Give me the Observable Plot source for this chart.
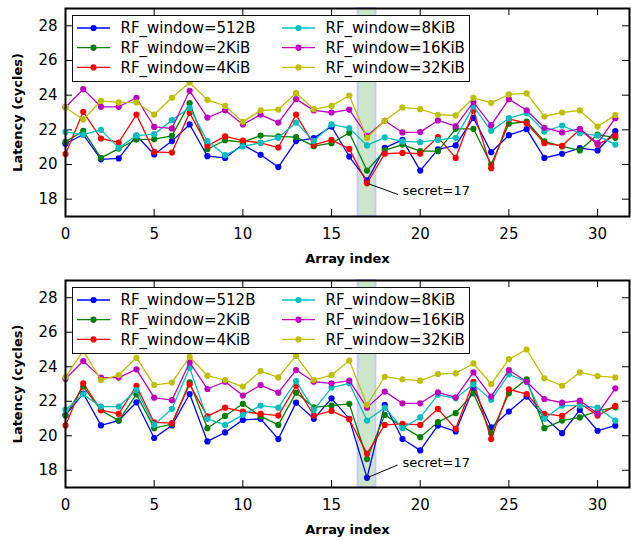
<!DOCTYPE html>
<html>
<head>
<meta charset="utf-8">
<script src="https://cdn.jsdelivr.net/npm/d3@7"></script>
<script src="https://cdn.jsdelivr.net/npm/@observablehq/plot@0.6"></script>
<style>
  body { margin: 0; background: #fff; }
  #chart { width: 631px; }
  #chart svg { display: block; }
</style>
</head>
<body>
<div id="chart"></div>
<script>
// ---------- data ----------
const arrayIndex = [0,1,2,3,4,5,6,7,8,9,10,11,12,13,14,15,16,17,18,19,20,21,22,23,24,25,26,27,28,29,30,31];
const seriesNames = ["RF_window=512B","RF_window=2KiB","RF_window=4KiB","RF_window=8KiB","RF_window=16KiB","RF_window=32KiB"];
const seriesColors = ["#0000ff","#008000","#ff0000","#00bfbf","#bf00bf","#bfbf00"];
const xTicks = [0,5,10,15,20,25,30];
const yTicks = [18,20,22,24,26,28];
const xDomain = [0, 31.8];
const yDomain = [17, 29];
const secretBand = [{x1: 16.5, x2: 17.5}];

// top panel
const top512B = [21.2,21.73,20.3,20.35,21.67,20.58,21.35,22.31,20.48,20.38,21.15,20.56,19.85,21.35,21.52,22.19,20.46,19.08,20.96,21.42,19.65,20.87,21.1,22.69,20.71,21.69,22.04,20.38,20.62,20.94,20.81,21.92];
const top2KiB = [21.3,21.94,20.38,20.92,21.44,21.46,21.65,23.54,20.88,21.4,21.29,21.67,21.62,21.58,21.06,21.23,21.83,19.65,20.81,21.15,20.77,20.77,22.06,22.06,20.0,22.35,22.48,21.33,21.04,20.81,21.73,21.54];
const top4KiB = [20.6,23.04,21.5,21.27,22.88,20.73,20.69,22.98,21.08,21.62,21.38,21.25,20.98,22.88,21.13,21.42,20.9,18.92,20.62,20.67,20.62,21.58,20.38,23.12,19.79,22.63,22.38,21.23,21.08,22.02,21.15,21.67];
const top8KiB = [21.88,21.73,22.0,20.96,21.67,21.75,22.56,23.27,21.35,20.54,21.04,21.25,21.54,22.42,21.35,22.31,22.1,21.1,21.56,21.33,21.29,21.42,21.54,23.35,21.94,22.67,22.96,21.9,22.25,21.81,21.67,21.15];
const top16KiB = [23.29,24.35,23.33,23.33,23.85,22.17,22.08,24.25,22.71,23.13,22.31,22.88,22.42,23.77,23.12,23.0,23.17,21.65,22.52,21.85,21.87,22.54,22.21,23.6,22.27,23.77,23.13,22.12,21.85,22.06,21.23,22.67];
const top32KiB = [23.29,22.6,23.67,23.58,23.58,22.88,23.85,24.73,23.73,23.38,22.46,23.12,23.17,24.12,23.19,23.38,23.98,21.54,22.52,23.29,23.19,22.87,22.83,23.85,23.56,24.04,24.1,22.77,23.0,23.12,22.19,22.85];

// bottom panel
const bot512B = [21.2,22.45,20.6,20.88,21.94,19.87,20.6,22.42,19.67,20.19,20.92,20.98,19.81,21.92,20.98,22.17,20.98,17.56,21.79,19.81,19.15,20.6,20.25,22.75,20.48,21.4,22.27,21.08,20.15,21.5,20.29,20.58];
const bot2KiB = [21.18,22.85,21.48,20.88,22.4,20.44,20.67,23.1,20.44,21.15,21.85,21.12,20.63,22.5,21.65,21.75,21.85,18.65,21.21,20.54,19.92,20.79,21.31,22.46,20.15,22.46,23.27,20.44,20.88,21.06,21.44,21.65];
const bot4KiB = [20.6,23.04,21.48,21.27,22.9,20.77,20.73,22.98,21.12,21.63,21.4,21.27,21.17,22.9,21.17,21.44,20.96,18.96,20.63,20.69,20.63,21.56,20.4,23.13,19.81,22.69,22.42,21.27,21.15,21.88,21.17,21.73];
const bot8KiB = [21.5,22.4,21.69,21.69,22.65,20.63,21.56,23.94,20.98,20.63,21.21,21.75,21.63,23.17,21.5,22.79,23.04,20.88,21.63,20.44,21.06,22.37,22.17,22.98,22.08,23.56,23.13,20.98,21.75,21.75,21.63,20.88];
const bot16KiB = [23.3,24.33,23.37,23.37,23.85,22.21,22.06,24.25,22.71,23.13,22.33,22.94,22.5,23.81,23.13,23.04,23.19,21.63,22.56,21.88,21.88,22.52,22.23,23.67,22.27,23.81,23.13,22.13,21.92,22.04,21.27,22.75];
const bot32KiB = [23.4,24.93,23.23,23.52,24.52,22.94,23.08,24.58,23.48,23.23,22.85,23.75,23.38,24.63,23.23,23.52,24.35,21.79,23.42,23.27,23.19,23.58,23.62,24.19,23.0,24.44,25.0,23.33,22.9,23.67,23.46,23.38];

// annotations: point (x,y), line end (tx,ty), text position (lx,ly)
const topAnnotation = [{x: 17, y: 18.92, tx: 18.75, ty: 18.27, lx: 19.0, ly: 18.47, label: "secret=17"}];
const bottomAnnotation = [{x: 17, y: 17.56, tx: 18.72, ty: 18.3, lx: 19.0, ly: 18.43, label: "secret=17"}];

const xLabel = "Array index";
const yLabel = "Latency (cycles)";

// ---------- drawing ----------
function makePanel(seriesData, annotation, mt, mb) {
  const W = 631, H = 270, ml = 65, mr = 2;
  const pw = W - ml - mr, ph = H - mt - mb;
  const tick = 7;
  const rows = [];
  seriesNames.forEach((name, k) => seriesData[k].forEach((v, i) => rows.push({series: name, x: arrayIndex[i], y: v})));

  const seriesMarks = seriesNames.flatMap((name) => {
    const d = rows.filter(r => r.series === name);
    return [
      Plot.line(d, {x: "x", y: "y", stroke: "series", strokeWidth: 1.3}),
      Plot.dot(d, {x: "x", y: "y", fill: "series", r: 3.1, stroke: "none"})
    ];
  });

  const fig = Plot.plot({
    width: W, height: H,
    marginTop: mt, marginBottom: mb, marginLeft: ml, marginRight: mr,
    style: {fontFamily: "'DejaVu Sans', sans-serif", fontSize: "15px", color: "#000", background: "#fff"},
    x: {domain: xDomain, label: null},
    y: {domain: yDomain, label: null},
    color: {domain: seriesNames, range: seriesColors},
    marks: [
      Plot.rect(secretBand, {x1: "x1", x2: "x2", fill: "#cce6cc", stroke: "#c8c8ff", strokeWidth: 2}),
      Plot.tickY(yTicks, {y: d => d, insetRight: pw - tick, stroke: "#000", strokeWidth: 1}),
      Plot.tickY(yTicks, {y: d => d, insetLeft: pw - tick, stroke: "#000", strokeWidth: 1}),
      Plot.tickX(xTicks, {x: d => d, insetBottom: ph - tick, stroke: "#000", strokeWidth: 1}),
      Plot.tickX(xTicks, {x: d => d, insetTop: ph - tick, stroke: "#000", strokeWidth: 1}),
      ...seriesMarks,
      Plot.link(annotation, {x1: "x", y1: "y", x2: "tx", y2: "ty", stroke: "#000", strokeWidth: 1}),
      Plot.text(annotation, {x: "lx", y: "ly", text: "label", textAnchor: "start", lineAnchor: "middle", fontSize: 13, fill: "#000"}),
      Plot.axisX({ticks: xTicks, tickSize: 0, tickPadding: 12, tickFormat: d => String(d), label: null, fontSize: 15}),
      Plot.axisY({ticks: yTicks, tickSize: 0, tickPadding: 8, tickFormat: d => String(d), label: null, fontSize: 15}),
      Plot.text([xLabel], {text: d => d, frameAnchor: "bottom", dy: 42, textAnchor: "middle", lineAnchor: "middle", fontWeight: "bold", fontSize: 13, fill: "#000"}),
      Plot.text([yLabel], {text: d => d, frameAnchor: "left", dx: -48, rotate: -90, textAnchor: "middle", lineAnchor: "middle", fontWeight: "bold", fontSize: 13, fill: "#000"}),
      Plot.frame({stroke: "#000", strokeWidth: 2})
    ]
  });

  // legend inside the axes, upper-left
  const svg = d3.select(fig);
  const g = svg.append("g").attr("font-family", "'DejaVu Sans', sans-serif").attr("font-size", 15).attr("text-anchor", "start");
  const bx = ml + 7, by = mt + 7, bw = 397, bh = 66;
  g.append("rect").attr("x", bx + 0.5).attr("y", by + 0.5).attr("width", bw).attr("height", bh)
    .attr("fill", "#fff").attr("stroke", "#111").attr("stroke-width", 1);
  seriesNames.forEach((name, k) => {
    const col = Math.floor(k / 3), row = k % 3;
    const cx = bx + 21.5 + col * 205, cy = by + 13 + row * 19.7;
    g.append("line").attr("x1", cx - 16.5).attr("x2", cx + 16.5).attr("y1", cy).attr("y2", cy)
      .attr("stroke", seriesColors[k]).attr("stroke-width", 1.3);
    g.append("circle").attr("cx", cx).attr("cy", cy).attr("r", 3.1).attr("fill", seriesColors[k]);
    g.append("text").attr("x", cx + 27).attr("y", cy).attr("dy", "0.36em").attr("text-anchor", "start").attr("fill", "#000").text(name);
  });
  return fig;
}

const chart = document.getElementById("chart");
chart.appendChild(makePanel([top512B, top2KiB, top4KiB, top8KiB, top16KiB, top32KiB], topAnnotation, 8, 54));
chart.appendChild(makePanel([bot512B, bot2KiB, bot4KiB, bot8KiB, bot16KiB, bot32KiB], bottomAnnotation, 10, 53));
</script>
</body>
</html>
